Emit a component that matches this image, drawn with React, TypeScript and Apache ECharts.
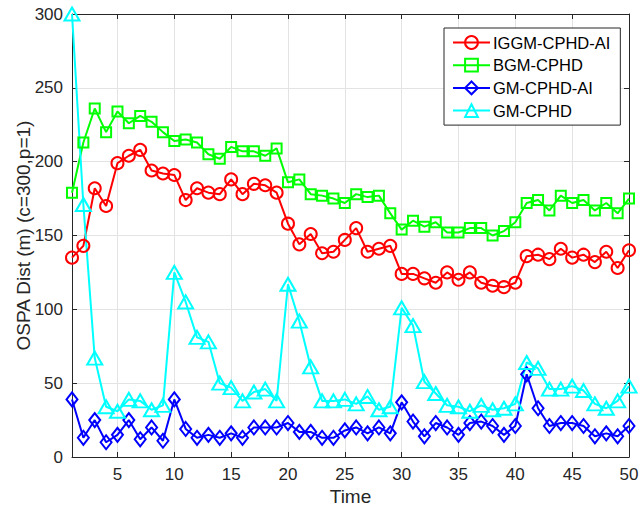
import React, { useEffect, useRef } from "react";
import * as echarts from "echarts";

const timeSteps = [
  1, 2, 3, 4, 5, 6, 7, 8, 9, 10, 11, 12, 13, 14, 15, 16, 17, 18, 19, 20, 21, 22, 23, 24, 25,
  26, 27, 28, 29, 30, 31, 32, 33, 34, 35, 36, 37, 38, 39, 40, 41, 42, 43, 44, 45, 46, 47, 48, 49, 50,
];
const xTicks = [5, 10, 15, 20, 25, 30, 35, 40, 45, 50];

const iggmCphdAi = [
  135, 143, 182, 170, 199, 204, 208, 194, 192, 191, 174, 182, 179, 178, 188, 178, 185, 184, 179, 158,
  144, 151, 138, 139, 147, 155, 139, 141, 143, 124, 124, 121, 118, 125, 120, 125, 118, 116, 115, 118,
  136, 137, 134, 141, 135, 137, 132, 139, 128, 140,
];
const bgmCphd = [
  179, 213, 236, 220, 234, 226, 231, 227, 220, 214, 215, 213, 205, 202, 210, 207, 207, 204, 209, 186,
  188, 178, 177, 175, 172, 178, 176, 177, 165, 154, 160, 156, 159, 152, 152, 155, 155, 150, 153, 159,
  172, 174, 167, 177, 172, 174, 167, 172, 165, 175,
];
const gmCphdAi = [
  39, 13, 25, 10, 15, 25, 12, 20, 11, 39, 19, 13, 15, 13, 16, 13, 20, 20, 20, 23,
  17, 17, 13, 13, 18, 20, 16, 20, 16, 37, 24, 14, 23, 20, 15, 23, 24, 21, 15, 21,
  56, 33, 21, 23, 23, 21, 14, 16, 14, 21,
];
const gmCphd = [
  300, 171, 67, 34, 31, 39, 38, 32, 35, 125, 105, 81, 78, 50, 47, 38, 44, 46, 38, 117,
  92, 61, 38, 38, 39, 36, 41, 32, 34, 101, 89, 51, 43, 35, 34, 31, 35, 32, 33, 36,
  64, 60, 46, 46, 48, 45, 36, 33, 38, 48,
];

const FONT = "'Liberation Sans', Arial, Helvetica, sans-serif";
const AXIS_COLOR = "#262626";
const GRID_COLOR = "#e3e3e3";

function mkSeries(name: string, values: number[], color: string, symbol: string, size: any) {
  return {
    name,
    type: "line",
    data: timeSteps.map((t, i) => [t, values[i]]),
    symbol,
    symbolSize: size,
    clip: false,
    lineStyle: { color, width: 2 },
    itemStyle: { color: "rgba(255,255,255,0)", borderColor: color, borderWidth: 2 },
    emphasis: { disabled: true },
  };
}

export default function App() {
  const ref = useRef<HTMLDivElement>(null);
  useEffect(() => {
    if (!ref.current) return;
    const chart = echarts.init(ref.current, null, { renderer: "svg" });
    chart.setOption({
      animation: false,
      backgroundColor: "#ffffff",
      textStyle: { fontFamily: FONT },
      grid: { left: 72, right: 10, top: 14, bottom: 51, containLabel: false, outerBoundsMode: "none" },
      legend: {
        orient: "vertical",
        left: 444,
        top: 28,
        width: 173,
        padding: [6, 10, 6, 8],
        itemGap: 5.7,
        itemWidth: 37,
        itemHeight: 16,
        backgroundColor: "#ffffff",
        borderColor: AXIS_COLOR,
        borderWidth: 1,
        textStyle: { fontSize: 16.5, color: "#000000", fontFamily: FONT, padding: [0, 0, 0, -2] },
        data: ["IGGM-CPHD-AI", "BGM-CPHD", "GM-CPHD-AI", "GM-CPHD"],
      },
      xAxis: [
        {
          type: "value",
          min: 1,
          max: 50,
          name: "Time",
          nameLocation: "middle",
          nameGap: 30,
          nameMoveOverlap: false,
          nameTextStyle: { fontSize: 19, lineHeight: 19, color: AXIS_COLOR, fontFamily: FONT },
          axisLine: { show: true, lineStyle: { color: AXIS_COLOR, width: 1 } },
          axisTick: { show: true, inside: true, length: 5, customValues: xTicks, lineStyle: { color: AXIS_COLOR } },
          axisLabel: { customValues: xTicks, fontSize: 17, color: AXIS_COLOR, margin: 9, fontFamily: FONT },
          splitLine: { show: true, lineStyle: { color: GRID_COLOR, width: 1 } },
        },
        {
          type: "value",
          position: "top",
          min: 1,
          max: 50,
          axisLine: { show: true, onZero: false, lineStyle: { color: AXIS_COLOR, width: 1 } },
          axisTick: { show: true, inside: true, length: 5, customValues: xTicks, lineStyle: { color: AXIS_COLOR } },
          axisLabel: { show: false },
          splitLine: { show: false },
        },
      ],
      yAxis: [
        {
          type: "value",
          min: 0,
          max: 300,
          interval: 50,
          name: "OSPA Dist (m) (c=300,p=1)",
          nameLocation: "middle",
          nameGap: 39,
          nameMoveOverlap: false,
          nameRotate: 90,
          nameTextStyle: { fontSize: 19, lineHeight: 19, color: AXIS_COLOR, fontFamily: FONT },
          axisLine: { show: true, lineStyle: { color: AXIS_COLOR, width: 1 } },
          axisTick: { show: true, inside: true, length: 5, lineStyle: { color: AXIS_COLOR } },
          axisLabel: { fontSize: 17, color: AXIS_COLOR, margin: 9, fontFamily: FONT },
          splitLine: { show: true, lineStyle: { color: GRID_COLOR, width: 1 } },
        },
        {
          type: "value",
          position: "right",
          min: 0,
          max: 300,
          interval: 50,
          axisLine: { show: true, onZero: false, lineStyle: { color: AXIS_COLOR, width: 1 } },
          axisTick: { show: true, inside: true, length: 5, lineStyle: { color: AXIS_COLOR } },
          axisLabel: { show: false },
          splitLine: { show: false },
        },
      ],
      series: [
        mkSeries("IGGM-CPHD-AI", iggmCphdAi, "#ff0000", "circle", 12),
        mkSeries("BGM-CPHD", bgmCphd, "#00ff00", "rect", 10),
        mkSeries("GM-CPHD-AI", gmCphdAi, "#0000ff", "diamond", [11, 14]),
        mkSeries("GM-CPHD", gmCphd, "#00ffff", "triangle", [15, 13]),
      ],
    });
    return () => chart.dispose();
  }, []);
  return <div ref={ref} style={{ position: "fixed", left: 0, top: 0, width: 639, height: 508 }} />;
}
